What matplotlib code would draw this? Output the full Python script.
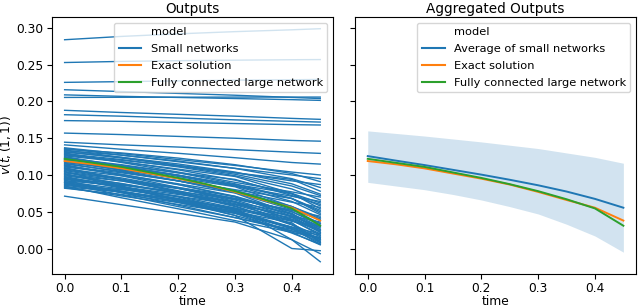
import numpy as np
import matplotlib
matplotlib.use('Agg')
import matplotlib.pyplot as plt
from matplotlib.lines import Line2D

# --- data ---
t_small = [0.0, 0.1, 0.2, 0.3, 0.4, 0.45]
t_fine = [0.0, 0.05, 0.1, 0.15, 0.2, 0.25, 0.3, 0.35, 0.4, 0.45]

# individual small networks, value at each t_small
small_upper = [
    [0.284, 0.2885, 0.292, 0.295, 0.2975, 0.299],
    [0.253, 0.2545, 0.2555, 0.2562, 0.2568, 0.257],
    [0.226, 0.227, 0.228, 0.229, 0.2295, 0.230],
    [0.216, 0.2135, 0.211, 0.2085, 0.2055, 0.204],
    [0.209, 0.207, 0.2055, 0.204, 0.2025, 0.2015],
    [0.2055, 0.2057, 0.2058, 0.206, 0.206, 0.206],
    [0.188, 0.185, 0.1825, 0.180, 0.177, 0.1757],
    [0.182, 0.180, 0.1775, 0.175, 0.173, 0.172],
    [0.174, 0.173, 0.1715, 0.170, 0.1685, 0.168],
    [0.157, 0.155, 0.1525, 0.150, 0.147, 0.146],
    [0.1446, 0.141, 0.138, 0.1345, 0.131, 0.1294],
    [0.141, 0.135, 0.1295, 0.1235, 0.117, 0.1148],
]

small_bundle = [
    [0.137, 0.129, 0.121, 0.113, 0.104, 0.100],
    [0.136, 0.127, 0.118, 0.109, 0.100, 0.095],
    [0.135, 0.130, 0.123, 0.114, 0.102, 0.091],
    [0.134, 0.124, 0.113, 0.103, 0.092, 0.087],
    [0.133, 0.127, 0.119, 0.109, 0.095, 0.083],
    [0.132, 0.123, 0.113, 0.103, 0.094, 0.078],
    [0.131, 0.124, 0.115, 0.104, 0.088, 0.074],
    [0.130, 0.117, 0.104, 0.090, 0.077, 0.070],
    [0.129, 0.121, 0.111, 0.099, 0.081, 0.066],
    [0.128, 0.118, 0.108, 0.098, 0.075, 0.062],
    [0.127, 0.120, 0.112, 0.101, 0.085, 0.072],
    [0.126, 0.118, 0.107, 0.093, 0.074, 0.058],
    [0.125, 0.112, 0.098, 0.085, 0.071, 0.064],
    [0.124, 0.112, 0.0995, 0.087, 0.075, 0.054],
    [0.123, 0.114, 0.103, 0.088, 0.068, 0.050],
    [0.122, 0.113, 0.103, 0.094, 0.072, 0.060],
    [0.121, 0.112, 0.100, 0.085, 0.064, 0.046],
    [0.120, 0.106, 0.092, 0.078, 0.063, 0.056],
    [0.119, 0.107, 0.096, 0.084, 0.057, 0.042],
    [0.118, 0.110, 0.0995, 0.086, 0.068, 0.052],
    [0.117, 0.1075, 0.095, 0.079, 0.057, 0.038],
    [0.116, 0.104, 0.092, 0.080, 0.068, 0.048],
    [0.115, 0.105, 0.092, 0.076, 0.053, 0.034],
    [0.114, 0.099, 0.083, 0.068, 0.052, 0.044],
    [0.113, 0.1005, 0.088, 0.0755, 0.047, 0.030],
    [0.112, 0.103, 0.092, 0.077, 0.057, 0.040],
    [0.111, 0.101, 0.087, 0.070, 0.046, 0.026],
    [0.110, 0.094, 0.077, 0.061, 0.044, 0.036],
    [0.109, 0.094, 0.0785, 0.063, 0.048, 0.022],
    [0.108, 0.099, 0.087, 0.071, 0.050, 0.032],
    [0.107, 0.096, 0.082, 0.064, 0.039, 0.018],
    [0.106, 0.094, 0.083, 0.071, 0.044, 0.028],
    [0.105, 0.085, 0.065, 0.045, 0.024, 0.014],
    [0.104, 0.094, 0.082, 0.066, 0.043, 0.024],
    [0.103, 0.092, 0.077, 0.058, 0.032, 0.010],
    [0.102, 0.084, 0.066, 0.048, 0.029, 0.020],
    [0.101, 0.088, 0.0755, 0.063, 0.033, 0.016],
    [0.100, 0.092, 0.0815, 0.068, 0.050, 0.034],
    [0.099, 0.0885, 0.075, 0.057, 0.033, 0.012],
    [0.098, 0.083, 0.0665, 0.050, 0.035, 0.008],
    [0.097, 0.082, 0.0675, 0.053, 0.037, 0.030],
    [0.096, 0.087, 0.075, 0.0595, 0.038, 0.020],
    [0.095, 0.084, 0.070, 0.052, 0.027, 0.006],
    [0.094, 0.084, 0.0735, 0.0635, 0.040, 0.026],
    [0.093, 0.076, 0.059, 0.042, 0.024, 0.015],
    [0.092, 0.086, 0.0775, 0.067, 0.052, 0.040],
    [0.091, 0.081, 0.068, 0.052, 0.029, 0.010],
    [0.090, 0.078, 0.066, 0.054, 0.042, 0.022],
    [0.089, 0.076, 0.064, 0.051, 0.022, 0.005],
    [0.088, 0.073, 0.057, 0.042, 0.026, 0.018],
    [0.087, 0.080, 0.071, 0.060, 0.044, 0.030],
    [0.086, 0.077, 0.064, 0.049, 0.027, 0.008],
    [0.085, 0.069, 0.054, 0.038, 0.022, 0.014],
    [0.084, 0.077, 0.067, 0.055, 0.038, 0.024],
    [0.083, 0.0715, 0.060, 0.048, 0.021, 0.006],
    [0.082, 0.0735, 0.0625, 0.048, 0.029, 0.012],
    [0.0712, 0.0596, 0.048, 0.036, 0.012, -0.007],
    [0.095, 0.084, 0.071, 0.055, 0.012, -0.018],
    [0.090, 0.078, 0.063, 0.045, 0.000, -0.003],
]

exact = [0.119, 0.1145, 0.109, 0.102, 0.095, 0.087, 0.077, 0.066, 0.0555, 0.038]
large_net = [0.122, 0.1165, 0.111, 0.1035, 0.096, 0.0875, 0.078, 0.067, 0.0545, 0.031]
small_mean = [0.1257, 0.1195, 0.1135, 0.107, 0.1005, 0.0935, 0.086, 0.0775, 0.0675, 0.0555]
band_low = [0.090, 0.085, 0.080, 0.0735, 0.066, 0.057, 0.047, 0.033, 0.017, -0.005]
band_high = [0.160, 0.1565, 0.153, 0.149, 0.145, 0.1405, 0.136, 0.130, 0.124, 0.116]

c_blue, c_orange, c_green = '#1f77b4', '#ff7f0e', '#2ca02c'

plt.rcParams['font.size'] = 8.8
plt.rcParams['xtick.major.pad'] = 2.5
plt.rcParams['ytick.major.pad'] = 2.5
fig, (ax1, ax2) = plt.subplots(1, 2, figsize=(6.4, 3.08), dpi=100, sharey=True)
fig.subplots_adjust(left=0.081, right=0.994, bottom=0.112, top=0.945, wspace=0.078)

# --- left: every small network ---
for vals in small_upper + small_bundle:
    ax1.plot(t_small, vals, color=c_blue, lw=1.0)
ax1.plot(t_fine, exact, color=c_orange, lw=1.3)
ax1.plot(t_fine, large_net, color=c_green, lw=1.3)

# --- right: aggregated ---
ax2.fill_between(t_fine, band_low, band_high, color=c_blue, alpha=0.2, lw=0)
ax2.plot(t_fine, small_mean, color=c_blue, lw=1.4)
ax2.plot(t_fine, exact, color=c_orange, lw=1.4)
ax2.plot(t_fine, large_net, color=c_green, lw=1.4)

blank = Line2D([], [], color='none')
h = lambda c: Line2D([], [], color=c, lw=1.5)
ax1.legend([blank, h(c_blue), h(c_orange), h(c_green)],
           ['model', 'Small networks', 'Exact solution', 'Fully connected large network'],
           loc='upper right', fontsize=8.2, labelspacing=0.6)
ax2.legend([blank, h(c_blue), h(c_orange), h(c_green)],
           ['model', 'Average of small networks', 'Exact solution', 'Fully connected large network'],
           loc='upper right', fontsize=8.2, labelspacing=0.6)

ax1.set_title('Outputs', fontsize=9.8, pad=3)
ax2.set_title('Aggregated Outputs', fontsize=9.8, pad=3)
ax1.set_ylabel(r'$v(t, (1, 1))$', labelpad=2)
for ax in (ax1, ax2):
    ax.set_xlabel('time', labelpad=0)
    ax.set_xticks([0.0, 0.1, 0.2, 0.3, 0.4])
ax1.set_yticks([0.0, 0.05, 0.10, 0.15, 0.20, 0.25, 0.30])
ax1.set_ylim(-0.034, 0.315)

plt.savefig('out.png', dpi=100)
